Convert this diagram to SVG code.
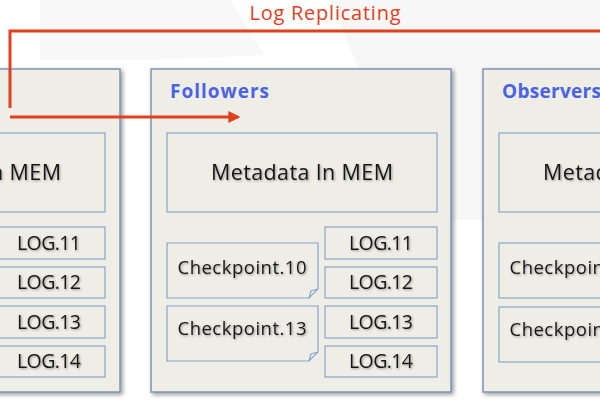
<svg xmlns="http://www.w3.org/2000/svg" width="600" height="400" viewBox="0 0 600 400">
<defs>
<style>
.panel{fill:#eeede6;stroke:#7e96b4;stroke-width:1.5}
.box{fill:#efede6;stroke:#86a6cc;stroke-width:1.2}
.t{font-family:"Open Sans",Lato,sans-serif;fill:#151515;text-anchor:middle}
.big{font-size:21.5px}
.log{font-size:19.5px}
.cp{font-size:18.5px}
.hdr{font-family:"Open Sans",Lato,sans-serif;font-weight:bold;font-size:19px;fill:#4a63e6}
.red{stroke:#e2401d;stroke-width:3;fill:none}
</style>
<filter id="sh" x="-10%" y="-10%" width="130%" height="130%">
<feDropShadow dx="2" dy="2" stdDeviation="2" flood-color="#555" flood-opacity="0.6"/>
</filter>
<filter id="ts" x="-10%" y="-20%" width="120%" height="150%">
<feDropShadow dx="1" dy="1" stdDeviation="0.8" flood-color="#555" flood-opacity="0.6"/>
</filter>
<marker id="ah" viewBox="0 0 10 10" refX="8" refY="5" markerWidth="4" markerHeight="4" orient="auto" markerUnits="strokeWidth">
<path d="M0,0 L10,5 L0,10 z" fill="#e2401d"/>
</marker>
</defs>
<rect width="600" height="400" fill="#ffffff"/>
<polygon points="40,0 230,0 265,55 150,60 40,60" fill="#f8f8f8"/>
<polygon points="330,0 600,0 600,220 420,220" fill="#f7f7f7"/>

<g id="leader">
<rect class="panel" x="-10" y="69" width="130" height="323" filter="url(#sh)"/>
<rect class="box" x="-165" y="133" width="270" height="79"/>
<text class="t big" x="-30" y="180" textLength="182" filter="url(#ts)">Metadata In MEM</text>
<rect class="box" x="-7" y="227" width="112" height="32"/>
<text class="t log" x="49" y="250" textLength="64" filter="url(#ts)">LOG.11</text>
<rect class="box" x="-7" y="267" width="112" height="31"/>
<text class="t log" x="49" y="289" textLength="64" filter="url(#ts)">LOG.12</text>
<rect class="box" x="-7" y="306" width="112" height="32"/>
<text class="t log" x="49" y="329" textLength="64" filter="url(#ts)">LOG.13</text>
<rect class="box" x="-7" y="346" width="112" height="31"/>
<text class="t log" x="49" y="368" textLength="64" filter="url(#ts)">LOG.14</text>
</g>

<g id="followers">
<rect class="panel" x="151" y="69" width="300" height="323" filter="url(#sh)"/>
<text class="hdr" x="170" y="98" textLength="99">Followers</text>
<rect class="box" x="167" y="133" width="270" height="79"/>
<text class="t big" x="302" y="180" textLength="182" filter="url(#ts)">Metadata In MEM</text>
<path class="box" d="M167,243 H318 V289 L309,298 H167 Z"/>
<path d="M309,298 L311,291 L318,289" fill="none" stroke="#86a6cc" stroke-width="1.2"/>
<text class="t cp" x="242" y="274" textLength="129" filter="url(#ts)">Checkpoint.10</text>
<path class="box" d="M167,306 H318 V352 L309,361 H167 Z"/>
<path d="M309,361 L311,354 L318,352" fill="none" stroke="#86a6cc" stroke-width="1.2"/>
<text class="t cp" x="242" y="335" textLength="129" filter="url(#ts)">Checkpoint.13</text>
<rect class="box" x="325" y="227" width="112" height="32"/>
<text class="t log" x="381" y="250" textLength="64" filter="url(#ts)">LOG.11</text>
<rect class="box" x="325" y="267" width="112" height="31"/>
<text class="t log" x="381" y="289" textLength="64" filter="url(#ts)">LOG.12</text>
<rect class="box" x="325" y="306" width="112" height="32"/>
<text class="t log" x="381" y="329" textLength="64" filter="url(#ts)">LOG.13</text>
<rect class="box" x="325" y="346" width="112" height="31"/>
<text class="t log" x="381" y="368" textLength="64" filter="url(#ts)">LOG.14</text>
</g>

<g id="observers">
<rect class="panel" x="483" y="69" width="140" height="323" filter="url(#sh)"/>
<text class="hdr" x="502" y="98" textLength="99">Observers</text>
<rect class="box" x="499" y="133" width="270" height="79"/>
<text class="t big" x="634" y="180" textLength="182" filter="url(#ts)">Metadata In MEM</text>
<rect class="box" x="499" y="243" width="151" height="55"/>
<text class="t cp" x="574" y="274" textLength="129" filter="url(#ts)">Checkpoint.10</text>
<rect class="box" x="499" y="307" width="151" height="55"/>
<text class="t cp" x="574" y="336" textLength="129" filter="url(#ts)">Checkpoint.13</text>
</g>

<g id="connectors">
<polyline class="red" points="10,108 10,31 610,31"/>
<line class="red" x1="10" y1="117" x2="238" y2="117" marker-end="url(#ah)"/>
<text x="325" y="20" font-family="'Open Sans',Lato,sans-serif" font-size="20" fill="#e2401d" text-anchor="middle" textLength="151">Log Replicating</text>
</g>
</svg>
